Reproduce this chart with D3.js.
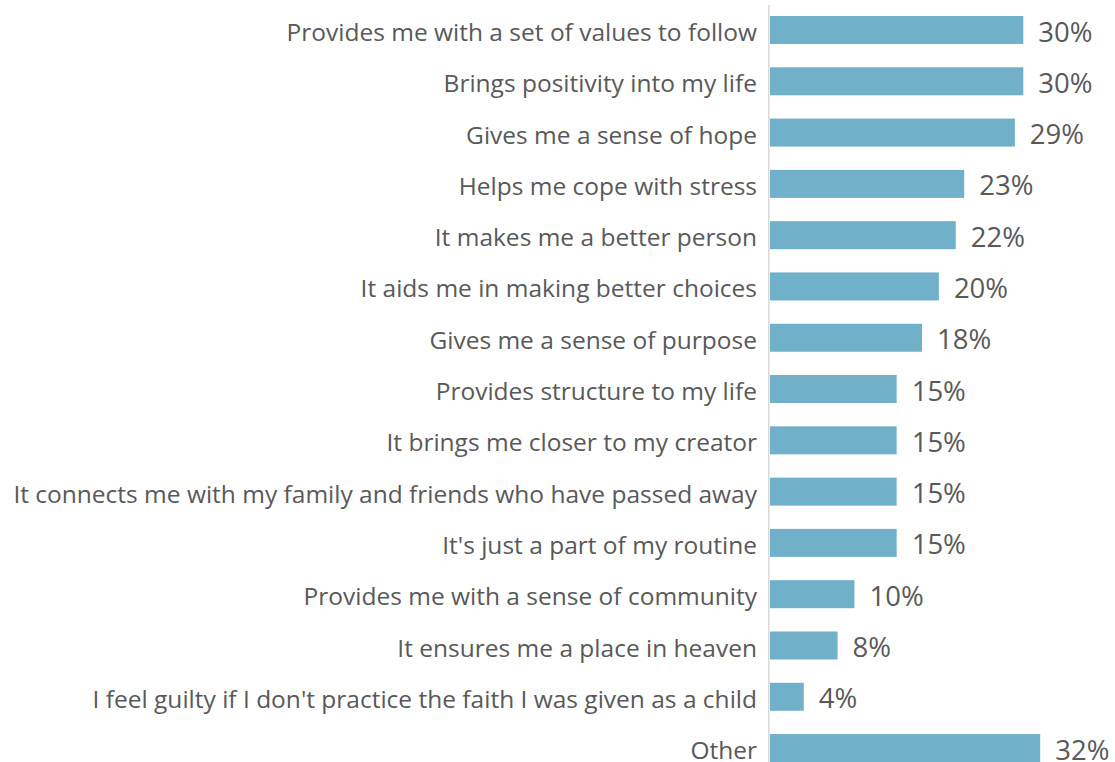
<!DOCTYPE html>
<html><head><meta charset="utf-8">
<script src="https://cdn.jsdelivr.net/npm/d3@7"></script>
<style>body{margin:0;background:#fff}svg{display:block}</style>
</head><body>
<svg id="c" width="1115" height="762"></svg>
<script>
const categories = [
  "Provides me with a set of values to follow",
  "Brings positivity into my life",
  "Gives me a sense of hope",
  "Helps me cope with stress",
  "It makes me a better person",
  "It aids me in making better choices",
  "Gives me a sense of purpose",
  "Provides structure to my life",
  "It brings me closer to my creator",
  "It connects me with my family and friends who have passed away",
  "It's just a part of my routine",
  "Provides me with a sense of community",
  "It ensures me a place in heaven",
  "I feel guilty if I don't practice the faith I was given as a child",
  "Other"
];
const values = [0.30,0.30,0.29,0.23,0.22,0.20,0.18,0.15,0.15,0.15,0.15,0.10,0.08,0.04,0.32];

const svg = d3.select("#c");
const step = 51.29;
const y = d3.scaleBand().domain(categories)
  .range([4.36, 4.36 + step*categories.length])
  .paddingInner(0.454).paddingOuter(0.227);
const x = d3.scaleLinear().domain([0,0.32]).range([770,1040.2]);
const fmt = d3.format(".0%");

svg.selectAll("rect.bar").data(values).join("rect")
  .attr("class","bar")
  .attr("x", x(0))
  .attr("y",(d,i)=>y(categories[i]))
  .attr("width",d=>x(d)-x(0))
  .attr("height",y.bandwidth())
  .attr("fill","#70b0c9");

svg.append("line").attr("x1",768.8).attr("x2",768.8).attr("y1",5).attr("y2",762)
  .attr("stroke","#d9d9d9").attr("stroke-width",1.5);

svg.selectAll("text.cat").data(categories).join("text")
  .attr("class","cat")
  .attr("x",757).attr("y",d=>y(d)+y.bandwidth()/2)
  .attr("dy","0.45em").attr("text-anchor","end")
  .attr("font-family","'Open Sans', sans-serif").attr("font-size",24.5)
  .attr("fill","#595959").text(d=>d);

svg.selectAll("text.val").data(values).join("text")
  .attr("class","val")
  .attr("x",d=>x(d)+15).attr("y",(d,i)=>y(categories[i])+y.bandwidth()/2)
  .attr("dy","0.42em")
  .attr("font-family","'Open Sans', sans-serif").attr("font-size",27.5)
  .attr("fill","#595959").text(d=>fmt(d));
</script>
</body></html>
